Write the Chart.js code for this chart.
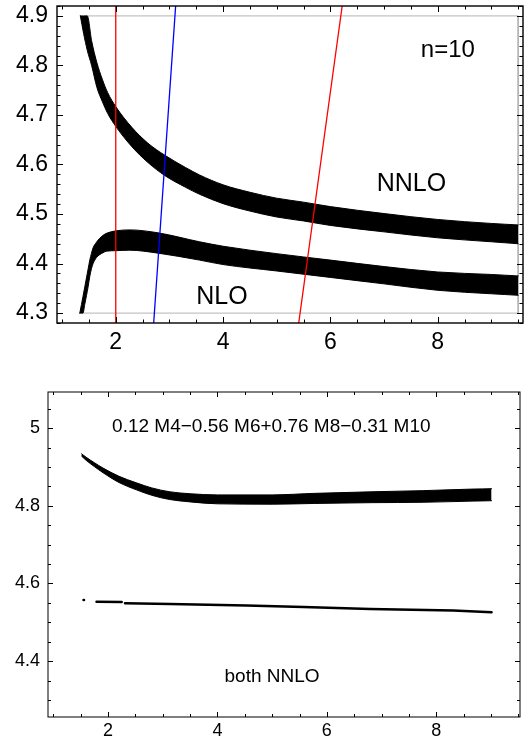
<!DOCTYPE html>
<html>
<head>
<meta charset="utf-8">
<script src="https://cdn.jsdelivr.net/npm/chart.js@4.4.1/dist/chart.umd.min.js"></script>
<style>
  body { margin: 0; background: #fff; }
  .wrap { position: relative; width: 525px; height: 742px; }
  canvas { position: absolute; left: 0; }
  #topChart { top: 0; }
  #bottomChart { top: 370px; }
</style>
</head>
<body>
<div class="wrap">
  <canvas id="topChart" width="525" height="360"></canvas>
  <canvas id="bottomChart" width="525" height="372"></canvas>
</div>
<script>
// ---- top panel (n=10) ----
const topXTicks = [2, 4, 6, 8];
const topXLabels = ['2', '4', '6', '8'];
const topYTicks = [4.3, 4.4, 4.5, 4.6, 4.7, 4.8, 4.9];
const topYLabels = ['4.3', '4.4', '4.5', '4.6', '4.7', '4.8', '4.9'];

// NNLO band edges
const nnloX  = [1.34, 1.40, 1.47, 1.55, 1.65, 1.75, 1.85, 2.0, 2.3, 2.6, 2.91, 3.3, 3.56, 4.0, 4.5, 5.0, 5.5, 6.0, 7.0, 8.0, 9.0, 9.5];
const nnloHi = [4.90, 4.90, 4.90, 4.85, 4.805, 4.772, 4.745, 4.717, 4.675, 4.643, 4.619, 4.594, 4.579, 4.559, 4.544, 4.532, 4.524, 4.515, 4.501, 4.489, 4.481, 4.478];
const nnloLo = [4.90, 4.865, 4.83, 4.80, 4.755, 4.727, 4.703, 4.677, 4.636, 4.604, 4.578, 4.554, 4.540, 4.521, 4.506, 4.494, 4.486, 4.477, 4.464, 4.452, 4.444, 4.440];

// NLO band edges
const nloX  = [1.33, 1.39, 1.423, 1.485, 1.516, 1.548, 1.578, 1.64, 1.70, 1.764, 1.827, 2.0, 2.26, 2.79, 3.56, 4.0, 5.0, 6.0, 7.0, 8.0, 9.0, 9.5];
const nloHi = [4.30, 4.334, 4.353, 4.389, 4.407, 4.421, 4.432, 4.443, 4.451, 4.457, 4.461, 4.466, 4.468, 4.462, 4.444, 4.435, 4.420, 4.407, 4.394, 4.383, 4.378, 4.375];
const nloLo = [4.30, 4.30, 4.318, 4.353, 4.374, 4.390, 4.400, 4.412, 4.418, 4.422, 4.425, 4.426, 4.427, 4.421, 4.407, 4.398, 4.385, 4.372, 4.359, 4.346, 4.339, 4.336];

// straight lines
const redAX = [2.0, 2.0],     redAY = [4.28, 4.92];
const blueX = [2.707, 3.116], blueY = [4.28, 4.92];
const redBX = [5.41, 6.22],   redBY = [4.28, 4.92];

// plot range outline (grey)
const rangeX = [1.42, 9.5, 9.5, 1.36];
const rangeY = [4.9, 4.9, 4.3, 4.3];

// ---- bottom panel ----
const botXTicks = [2, 4, 6, 8];
const botXLabels = ['2', '4', '6', '8'];
const botYTicks = [4.4, 4.6, 4.8, 5.0];
const botYLabels = ['4.4', '4.6', '4.8', '5'];

const combX  = [1.516, 1.6, 1.75, 1.91, 2.2, 2.52, 2.8, 3.13, 3.5, 4.0, 5.0, 5.78, 6.82, 7.76, 8.67, 9.01];
const combHi = [4.934, 4.925, 4.911, 4.897, 4.876, 4.859, 4.846, 4.836, 4.831, 4.828, 4.828, 4.832, 4.836, 4.839, 4.843, 4.844];
const combLo = [4.928, 4.917, 4.901, 4.885, 4.860, 4.841, 4.827, 4.816, 4.810, 4.805, 4.804, 4.806, 4.808, 4.809, 4.812, 4.813];

// lower NNLO line (null = gap)
const lowX = [1.552, 1.562, 1.68, 1.79, 2.25, 2.28, 2.31, 3.13, 4.53, 5.57, 6.79, 8.31, 9.01];
const lowY = [4.557, 4.557, null, 4.553, 4.552, null, 4.549, 4.547, 4.543, 4.539, 4.534, 4.530, 4.526];

const pts = (xs, ys) => xs.map((x, i) => ({ x: x, y: ys[i] }));
const FONT = '"Liberation Sans", Arial, sans-serif';

// frame with inward ticks on all four sides + text labels
const framePlugin = {
  id: 'frame',
  afterDatasetsDraw(chart, args, o) {
    const ctx = chart.ctx, a = chart.chartArea;
    const xs = chart.scales.x, ys = chart.scales.y;
    ctx.save();
    ctx.strokeStyle = '#000';
    ctx.lineWidth = o.frameWidth;
    ctx.strokeRect(a.left, a.top, a.right - a.left, a.bottom - a.top);
    ctx.lineWidth = 1;
    ctx.beginPath();
    const isMajor = (list, v) => list.some(m => Math.abs(m - v) < 1e-6);
    let start = Math.ceil(xs.min / o.xMinor - 1e-6);
    for (let i = start; i * o.xMinor <= xs.max + 1e-9; i++) {
      const v = i * o.xMinor, px = Math.round(xs.getPixelForValue(v)) + 0.5;
      const len = isMajor(o.xMajor, v) ? o.majorLen : o.minorLen;
      ctx.moveTo(px, a.bottom); ctx.lineTo(px, a.bottom - len);
      ctx.moveTo(px, a.top); ctx.lineTo(px, a.top + len);
    }
    start = Math.ceil(ys.min / o.yMinor - 1e-6);
    for (let i = start; i * o.yMinor <= ys.max + 1e-9; i++) {
      const v = i * o.yMinor, py = Math.round(ys.getPixelForValue(v)) + 0.5;
      const len = isMajor(o.yMajor, v) ? o.majorLen : o.minorLen;
      ctx.moveTo(a.left, py); ctx.lineTo(a.left + len, py);
      ctx.moveTo(a.right, py); ctx.lineTo(a.right - len, py);
    }
    ctx.stroke();
    ctx.fillStyle = '#000';
    ctx.textAlign = 'center';
    ctx.textBaseline = 'middle';
    o.labels.forEach(l => {
      ctx.font = l.size + 'px ' + FONT;
      ctx.fillText(l.text, xs.getPixelForValue(l.x), ys.getPixelForValue(l.y));
    });
    ctx.restore();
  }
};

function band(xs, hi, lo) {
  return [
    { data: pts(xs, hi), borderColor: '#000', backgroundColor: '#000', borderWidth: 1, fill: '+1', cubicInterpolationMode: 'monotone' },
    { data: pts(xs, lo), borderColor: '#000', borderWidth: 1, fill: false, cubicInterpolationMode: 'monotone' }
  ];
}

function line(xs, ys, color, width) {
  return { data: pts(xs, ys), borderColor: color, borderWidth: width, fill: false, spanGaps: false };
}

function makeChart(id, datasets, o) {
  return new Chart(id, {
    type: 'line',
    data: { datasets: datasets },
    options: {
      responsive: false,
      animation: false,
      events: [],
      layout: { padding: { top: o.padTop, right: o.padRight, left: 0, bottom: 0 } },
      elements: { point: { radius: 0 }, line: { borderCapStyle: 'round' } },
      plugins: {
        legend: { display: false },
        tooltip: { enabled: false },
        frame: o.frame
      },
      scales: {
        x: {
          type: 'linear', min: o.xMin, max: o.xMax,
          grid: { display: false, drawTicks: false }, border: { display: false },
          afterBuildTicks: s => { s.ticks = o.xTicks.map(v => ({ value: v })); },
          afterFit: s => { s.height = o.xAxisH; s.paddingLeft = 0; s.paddingRight = 0; },
          ticks: { color: '#000', font: { family: FONT, size: o.tickSize }, padding: o.xPad, maxRotation: 0,
                   autoSkip: false, callback: (v, i) => o.xLabels[i] }
        },
        y: {
          type: 'linear', min: o.yMin, max: o.yMax,
          grid: { display: false, drawTicks: false }, border: { display: false },
          afterBuildTicks: s => { s.ticks = o.yTicks.map(v => ({ value: v })); },
          afterFit: s => { s.width = o.yAxisW; s.paddingTop = 0; s.paddingBottom = 0; },
          ticks: { color: '#000', font: { family: FONT, size: o.tickSize }, padding: o.yPad,
                   autoSkip: false, callback: (v, i) => o.yLabels[i] }
        }
      }
    },
    plugins: [framePlugin]
  });
}

// top chart
makeChart('topChart', [
  line(redAX, redAY, '#ff0000', 1.3),
  line(blueX, blueY, '#0000ff', 1.3),
  line(redBX, redBY, '#ff0000', 1.3),
  ...band(nnloX, nnloHi, nnloLo),
  ...band(nloX, nloHi, nloLo),
  line(rangeX, rangeY, '#b4b4b4', 1)
], {
  xMin: 0.905, xMax: 9.59, yMin: 4.28, yMax: 4.92,
  xTicks: topXTicks, xLabels: topXLabels, yTicks: topYTicks, yLabels: topYLabels,
  padTop: 6, padRight: 2, xAxisH: 37, yAxisW: 57, tickSize: 23, xPad: 6, yPad: 9,
  frame: {
    frameWidth: 1.4, majorLen: 6, minorLen: 3.5,
    xMinor: 0.5, xMajor: topXTicks, yMinor: 0.02, yMajor: topYTicks,
    labels: [
      { text: 'n=10', x: 8.19, y: 4.831, size: 24 },
      { text: 'NNLO', x: 7.51, y: 4.560, size: 25 },
      { text: 'NLO', x: 3.98, y: 4.333, size: 25 }
    ]
  }
});

// bottom chart
makeChart('bottomChart', [
  ...band(combX, combHi, combLo),
  line(lowX, lowY, '#000', 2.5)
], {
  xMin: 0.903, xMax: 9.53, yMin: 4.256, yMax: 5.093,
  xTicks: botXTicks, xLabels: botXLabels, yTicks: botYTicks, yLabels: botYLabels,
  padTop: 22, padRight: 5, xAxisH: 25, yAxisW: 48, tickSize: 18, xPad: 3, yPad: 8,
  frame: {
    frameWidth: 1, majorLen: 5, minorLen: 3,
    xMinor: 0.5, xMajor: botXTicks, yMinor: 0.05, yMajor: botYTicks,
    labels: [
      { text: '0.12 M4\u22120.56 M6+0.76 M8\u22120.31 M10', x: 4.985, y: 5.004, size: 19 },
      { text: 'both NNLO', x: 4.998, y: 4.36, size: 19 }
    ]
  }
});
</script>
</body>
</html>
